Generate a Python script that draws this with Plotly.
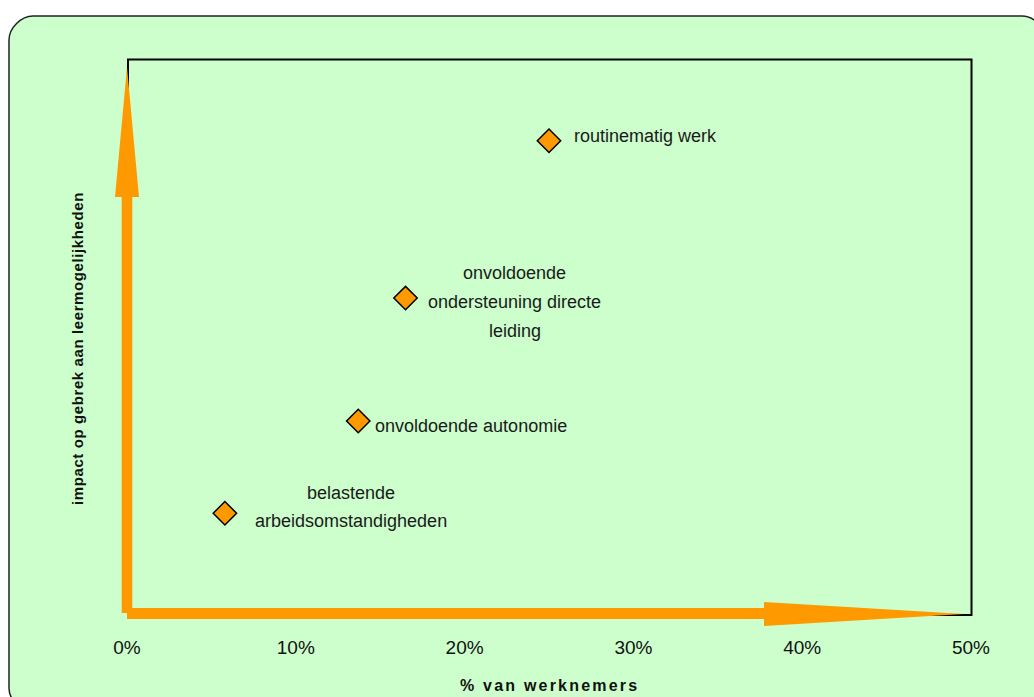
import plotly.graph_objects as go

# Data: share of employees (%) vs. impact on lack of learning opportunities
labels = [
    "belastende\narbeidsomstandigheden",
    "onvoldoende autonomie",
    "onvoldoende\nondersteuning directe\nleiding",
    "routinematig werk",
]
pct_employees = [5.8, 13.7, 16.5, 25.0]
impact = [18.3, 34.9, 57.0, 85.3]

x_ticks = [0, 10, 20, 30, 40, 50]
x_title = "% van werknemers"
y_title = "impact op gebrek aan leermogelijkheden"

# Label placement per point: (xanchor, xshift, [yshift per line])
label_pos = [
    ("center", 126, [20, -8]),
    ("left", 15, [-5]),
    ("center", 109, [25, -4, -33]),
    ("left", 23, [5]),
]

W, H = 1034, 697
L, R, T, B = 127, 971, 59, 615  # plot area in pixels
ORANGE = "#FF9900"
BG = "#CCFFCC"
FONT = "Liberation Sans, Arial, sans-serif"


def px(x):
    return (x - L) / (R - L)


def py(y):
    return (B - y) / (B - T)


def path(points, close=True):
    s = "M " + " L ".join(f"{px(a):.5f},{py(b):.5f}" for a, b in points)
    return s + (" Z" if close else "")


def rounded_rect(x0, y0, x1, y1, r):
    k = 0.45 * r
    pts = [
        f"M {px(x0 + r):.5f},{py(y0):.5f}",
        f"L {px(x1 - r):.5f},{py(y0):.5f}",
        f"C {px(x1 - r + k*1.1):.5f},{py(y0):.5f} {px(x1):.5f},{py(y0 + r - k*1.1):.5f} {px(x1):.5f},{py(y0 + r):.5f}",
        f"L {px(x1):.5f},{py(y1 - r):.5f}",
        f"C {px(x1):.5f},{py(y1 - r + k*1.1):.5f} {px(x1 - r + k*1.1):.5f},{py(y1):.5f} {px(x1 - r):.5f},{py(y1):.5f}",
        f"L {px(x0 + r):.5f},{py(y1):.5f}",
        f"C {px(x0 + r - k*1.1):.5f},{py(y1):.5f} {px(x0):.5f},{py(y1 - r + k*1.1):.5f} {px(x0):.5f},{py(y1 - r):.5f}",
        f"L {px(x0):.5f},{py(y0 + r):.5f}",
        f"C {px(x0):.5f},{py(y0 + r - k*1.1):.5f} {px(x0 + r - k*1.1):.5f},{py(y0):.5f} {px(x0 + r):.5f},{py(y0):.5f}",
        "Z",
    ]
    return " ".join(pts)


fig = go.Figure()

fig.add_trace(go.Scatter(
    x=pct_employees,
    y=impact,
    mode="markers",
    marker=dict(symbol="diamond", size=18, color=ORANGE,
                line=dict(color="black", width=1.5)),
    hoverinfo="skip",
    showlegend=False,
))

shapes = [
    # rounded chart background
    dict(type="path", xref="paper", yref="paper", layer="below",
         path=rounded_rect(9, 16, 1046, 712, 24),
         fillcolor=BG, line=dict(color="#222222", width=1.5)),
    # plot frame
    dict(type="rect", xref="paper", yref="paper", layer="below",
         x0=px(128), x1=px(971.5), y0=py(615), y1=py(59.5),
         line=dict(color="black", width=2), fillcolor="rgba(0,0,0,0)"),
    # horizontal axis arrow
    dict(type="path", xref="paper", yref="paper", layer="above",
         path=path([(127, 608), (764, 608), (764, 602), (964, 614),
                    (764, 626), (764, 619), (127, 619)]),
         fillcolor=ORANGE, line=dict(width=0)),
    # vertical axis arrow
    dict(type="path", xref="paper", yref="paper", layer="above",
         path=path([(121.7, 613), (121.7, 197), (115, 197), (127, 67),
                    (139, 197), (132.3, 197), (132.3, 613)]),
         fillcolor=ORANGE, line=dict(width=0)),
]

annotations = []
for i, text in enumerate(labels):
    anchor, xs, yss = label_pos[i]
    for line, ys in zip(text.split("\n"), yss):
        annotations.append(dict(
            x=pct_employees[i], y=impact[i], xref="x", yref="y",
            text=line, showarrow=False, xanchor=anchor, yanchor="middle",
            xshift=xs, yshift=ys,
            font=dict(family=FONT, size=18, color="#1a1a1a"),
        ))

annotations.append(dict(
    x=px(549), y=py(685), xref="paper", yref="paper",
    text=f'<span style="letter-spacing:2.2px">{x_title}</span>',
    showarrow=False, xanchor="center", yanchor="middle",
    font=dict(family=FONT, size=16, color="#111111", weight="bold"),
))
annotations.append(dict(
    x=px(77), y=py(349), xref="paper", yref="paper",
    text=f'<span style="letter-spacing:0.6px">{y_title}</span>',
    showarrow=False, xanchor="center", yanchor="middle", textangle=-90,
    font=dict(family=FONT, size=15, color="#111111", weight="bold"),
))

fig.update_layout(
    width=W, height=H,
    margin=dict(l=L, r=W - R, t=T, b=H - B),
    paper_bgcolor="white",
    plot_bgcolor="rgba(0,0,0,0)",
    shapes=shapes,
    annotations=annotations,
    xaxis=dict(range=[0, 50], tickvals=x_ticks,
               ticktext=[f"{v}%" for v in x_ticks],
               showgrid=False, zeroline=False, showline=False, ticks="",
               ticklabelstandoff=19,
               tickfont=dict(family=FONT, size=19, color="#111111")),
    yaxis=dict(range=[0, 100], showgrid=False, zeroline=False,
               showline=False, showticklabels=False, ticks=""),
)

fig.write_html("out.html")
